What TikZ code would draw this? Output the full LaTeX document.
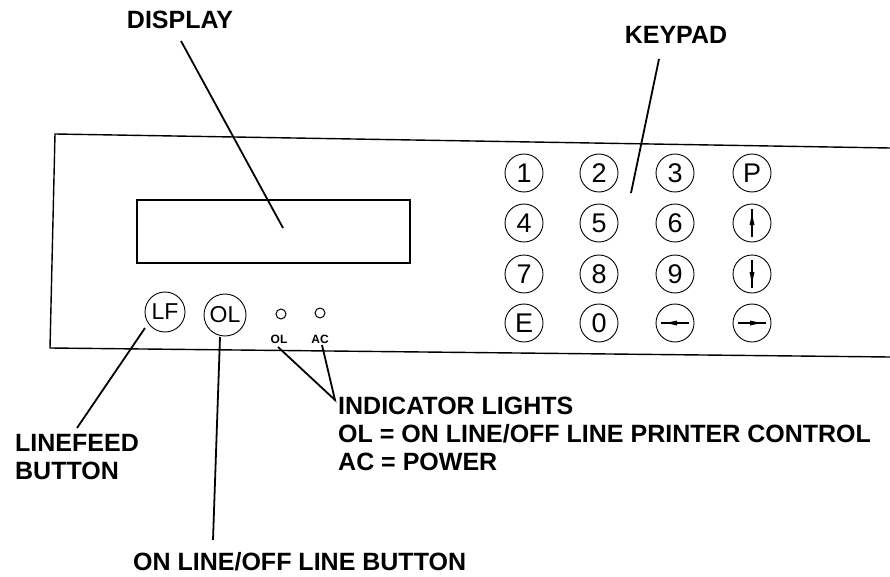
\documentclass[tikz,border=0pt]{standalone}
\usepackage{fontspec}
\setmainfont{Liberation Sans}
\usetikzlibrary{arrows.meta}
\tikzset{
  lbl/.style={font=\fontsize{25}{27}\selectfont\bfseries, inner sep=0pt},
  key/.style={circle, draw, line width=0.9pt, minimum size=38pt, inner sep=0pt, font=\fontsize{27}{27}\selectfont},
  bigkey/.style={key, minimum size=42pt, font=\fontsize{23}{23}\selectfont},
  light/.style={circle, draw, line width=1pt, minimum size=10pt, inner sep=0pt},
  tiny/.style={font=\fontsize{12}{12}\selectfont\bfseries, inner sep=0pt},
  leader/.style={line width=1.8pt},
  panel/.style={line width=1.4pt},
}
\begin{document}
\begin{tikzpicture}[x=1pt,y=-1pt]
\useasboundingbox (0,0) rectangle (890,577);
% panel
\draw[panel] (890,148) -- (55,134) -- (50,348) -- (890,357);
% display
\draw[panel] (137,200) rectangle (410,263);
% keypad
\node[key] (k1) at (524,173) {1};
\node[key] (k2) at (599,173) {2};
\node[key] (k3) at (675,173) {3};
\node[key] (kp) at (752,173) {P};
\node[key] (k4) at (524,223) {4};
\node[key] (k5) at (599,223) {5};
\node[key] (k6) at (675,223) {6};
\node[key] (kup) at (752,223) {};
\node[key] (k7) at (524,274) {7};
\node[key] (k8) at (599,274) {8};
\node[key] (k9) at (675,274) {9};
\node[key] (kdn) at (752,274) {};
\node[key] (ke) at (524,323) {E};
\node[key] (k0) at (599,323) {0};
\node[key] (klt) at (675,323) {};
\node[key] (krt) at (752,323) {};
% arrows in keys
\draw[line width=1.1pt] ([yshift=-14pt]kup.center) -- ([yshift=14pt]kup.center);
\fill ([yshift=9pt]kup.center) -- ([xshift=-2.5pt,yshift=-2pt]kup.center) -- ([xshift=2.5pt,yshift=-2pt]kup.center) -- cycle;
\draw[line width=1.1pt] ([yshift=-14pt]kdn.center) -- ([yshift=14pt]kdn.center);
\fill ([yshift=-9pt]kdn.center) -- ([xshift=-2.5pt,yshift=2pt]kdn.center) -- ([xshift=2.5pt,yshift=2pt]kdn.center) -- cycle;
\draw[line width=1.1pt] ([xshift=-14pt]klt.center) -- ([xshift=14pt]klt.center);
\fill ([xshift=-9pt]klt.center) -- ([xshift=2pt,yshift=-2.5pt]klt.center) -- ([xshift=2pt,yshift=2.5pt]klt.center) -- cycle;
\draw[line width=1.1pt] ([xshift=-14pt]krt.center) -- ([xshift=14pt]krt.center);
\fill ([xshift=9pt]krt.center) -- ([xshift=-2pt,yshift=-2.5pt]krt.center) -- ([xshift=-2pt,yshift=2.5pt]krt.center) -- cycle;
% lower buttons
\node[bigkey, minimum size=40pt] (lf) at (165,312) {LF};
\node[bigkey] (ol) at (225,315) {OL};
\node[light] (lol) at (281,314) {};
\node[light] (lac) at (320,313) {};
\node[tiny] (tol) at (279,339) {OL};
\node[tiny] (tac) at (320,339) {AC};
% labels
\node[lbl] (display) at (180,20) {DISPLAY};
\node[lbl] (keypad) at (676,35) {KEYPAD};
\node[lbl, anchor=west, align=left] (linefeed) at (15,457) {LINEFEED\\[1pt]BUTTON};
\node[lbl, anchor=west] (online) at (133,562) {ON LINE/OFF LINE BUTTON};
\node[lbl, anchor=west, align=left] (ind) at (338,434) {INDICATOR LIGHTS\\[1pt]OL = ON LINE/OFF LINE PRINTER CONTROL\\[1pt]AC = POWER};
% leader ends
\coordinate (dispstart) at (181,41);
\coordinate (dispend) at (283,228);
\coordinate (keystart) at (659,59);
\coordinate (keyend) at (631,193);
\coordinate (lfa) at (145,328);
\coordinate (lfb) at (77,428);
\coordinate (ola) at (220,337);
\coordinate (olb) at (213,540);
\coordinate (inda) at (278,347);
\coordinate (indb) at (322,345);
\coordinate (indtip) at (335,400);
% leaders
\draw[leader] (dispstart) -- (dispend);
\draw[leader] (keystart) -- (keyend);
\draw[leader] (lfa) -- (lfb);
\draw[leader] (ola) -- (olb);
\draw[leader] (inda) -- (indtip) -- (indb);
\end{tikzpicture}
\end{document}
